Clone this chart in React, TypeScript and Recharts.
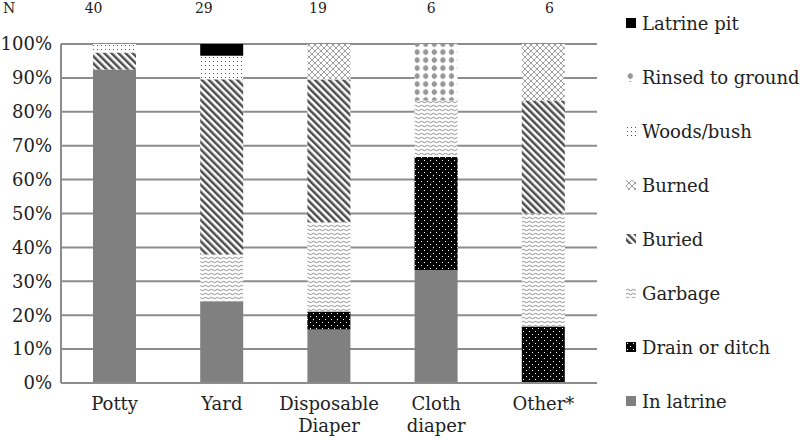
import React from 'react';
import { BarChart, Bar, XAxis, YAxis, CartesianGrid, Legend, Label } from 'recharts';

const FONT = '"DejaVu Serif", serif';
const TEXT = '#222';
const GRID = '#8c8c8c';

const CATEGORIES = ['Potty', 'Yard', 'Disposable\nDiaper', 'Cloth\ndiaper', 'Other*'];
const N_COUNTS = [40, 29, 19, 6, 6];
const Y_TICKS = [0, 10, 20, 30, 40, 50, 60, 70, 80, 90, 100];

// percent of each group, bottom of the stack first
const IN_LATRINE = [92.5, 24.1, 15.8, 33.3, 0];
const DRAIN_OR_DITCH = [0, 0, 5.3, 33.4, 16.7];
const GARBAGE = [0, 13.8, 26.3, 16.6, 33.3];
const BURIED = [5, 51.7, 42.1, 0, 33.3];
const BURNED = [0, 0, 10.5, 0, 16.7];
const WOODS_BUSH = [2.5, 6.9, 0, 0, 0];
const RINSED = [0, 0, 0, 16.7, 0];
const LATRINE_PIT = [0, 3.5, 0, 0, 0];

// the N labels sit a little left of the bars in the original
const N_LABEL_DX = [-21, -18, -11, -5, 6];

const SERIES = [
  { key: 'inLatrine', name: 'In latrine', fill: '#808080', values: IN_LATRINE },
  { key: 'drain', name: 'Drain or ditch', fill: 'url(#p-drain)', values: DRAIN_OR_DITCH },
  { key: 'garbage', name: 'Garbage', fill: 'url(#p-garbage)', values: GARBAGE },
  { key: 'buried', name: 'Buried', fill: 'url(#p-buried)', values: BURIED },
  { key: 'burned', name: 'Burned', fill: 'url(#p-burned)', values: BURNED },
  { key: 'woods', name: 'Woods/bush', fill: 'url(#p-woods)', values: WOODS_BUSH },
  { key: 'rinsed', name: 'Rinsed to ground', fill: 'url(#p-rinsed)', values: RINSED },
  { key: 'latrinePit', name: 'Latrine pit', fill: '#000', values: LATRINE_PIT },
];

const data = CATEGORIES.map((category, i) => {
  const row: Record<string, any> = { category, n: N_COUNTS[i] };
  SERIES.forEach((s) => (row[s.key] = s.values[i]));
  return row;
});

const XTick = ({ x, y, payload }: any) => {
  const lines = String(payload.value).split('\n');
  return (
    <text x={x} y={y} textAnchor="middle" fontFamily={FONT} fontSize={18} fill={TEXT}>
      {lines.map((l, i) => (
        <tspan key={i} x={x} dy={i === 0 ? 27 : 22}>
          {l}
        </tspan>
      ))}
    </text>
  );
};

const NTick = ({ x, y, index }: any) => (
  <text x={x + N_LABEL_DX[index]} y={y - 31} textAnchor="middle" fontFamily={FONT} fontSize={14} fill={TEXT}>
    {N_COUNTS[index]}
  </text>
);

const LegendList = () => (
  <div style={{ position: 'relative', width: 174, height: 440, fontFamily: FONT, fontSize: 18, color: TEXT }}>
    {[...SERIES].reverse().map((s, i) => (
      <div
        key={s.key}
        style={{
          position: 'absolute',
          left: 0,
          top: 11 + i * 54,
          height: 24,
          display: 'flex',
          alignItems: 'center',
          whiteSpace: 'nowrap',
        }}
      >
        <svg width={10} height={10} style={{ marginRight: 6, display: 'block' }}>
          <rect width={10} height={10} fill={s.fill} />
        </svg>
        <span>{s.name}</span>
      </div>
    ))}
  </div>
);

export default function App() {
  return (
    <div style={{ width: 800, height: 440 }}>
      <style>{`body{margin:0}`}</style>
      <BarChart width={800} height={440} data={data} margin={{ top: 0, right: 203, bottom: 0, left: 0 }}>
        <defs>
          <pattern id="p-buried" width="5" height="5" patternUnits="userSpaceOnUse" patternTransform="rotate(-45)">
            <rect width="5" height="5" fill="#fff" />
            <rect width="2.5" height="5" fill="#4d4d4d" />
          </pattern>
          <pattern id="p-burned" width="6" height="6" patternUnits="userSpaceOnUse">
            <rect width="6" height="6" fill="#fff" />
            <path d="M0,0 L6,6 M6,0 L0,6" stroke="#a0a0a0" strokeWidth="1" />
          </pattern>
          <pattern id="p-woods" width="4" height="4" patternUnits="userSpaceOnUse">
            <rect width="4" height="4" fill="#fff" />
            <rect x="1" y="1" width="1" height="1" fill="#555" />
          </pattern>
          <pattern id="p-rinsed" width="8.6" height="8" patternUnits="userSpaceOnUse">
            <rect width="8.6" height="8" fill="#fff" />
            <circle cx="4.3" cy="4" r="2.6" fill="#979797" />
            <polygon points="4.3,0.4 6.5,4 4.3,7.6 2.1,4" fill="#979797" />
          </pattern>
          <pattern id="p-garbage" width="6" height="4" patternUnits="userSpaceOnUse">
            <rect width="6" height="4" fill="#fff" />
            <path d="M0,2 Q1.5,0.6 3,2 T6,2" stroke="#8f8f8f" strokeWidth="1" fill="none" />
          </pattern>
          <pattern id="p-drain" width="6" height="6" patternUnits="userSpaceOnUse">
            <rect width="6" height="6" fill="#000" />
            <rect x="1" y="1" width="1" height="1" fill="#fff" />
            <rect x="4" y="4" width="1" height="1" fill="#fff" />
          </pattern>
        </defs>
        <CartesianGrid vertical={false} stroke={GRID} strokeWidth={2} />
        <XAxis
          dataKey="category"
          height={57}
          tick={<XTick />}
          tickLine={false}
          tickSize={0}
          tickMargin={0}
          axisLine={{ stroke: GRID, strokeWidth: 2 }}
          interval={0}
        />
        <XAxis
          xAxisId="top"
          orientation="top"
          dataKey="category"
          height={44}
          tick={<NTick />}
          tickLine={false}
          tickSize={0}
          tickMargin={0}
          axisLine={false}
          interval={0}
        />
        <YAxis
          width={61}
          domain={[0, 100]}
          ticks={Y_TICKS}
          interval={0}
          tickFormatter={(v) => `${v}%`}
          tick={{ fill: TEXT, fontSize: 18, fontFamily: FONT }}
          tickLine={false}
          tickSize={0}
          tickMargin={9}
          axisLine={{ stroke: GRID, strokeWidth: 2 }}
        >
          <Label
            content={({ viewBox }: any) => (
              <text x={3} y={viewBox.y - 31} fontFamily={FONT} fontSize={14} fill={TEXT}>
                N
              </text>
            )}
          />
        </YAxis>
        {SERIES.map((s) => (
          <Bar key={s.key} dataKey={s.key} name={s.name} stackId="a" fill={s.fill} barSize={43} isAnimationActive={false} />
        ))}
        <Legend
          layout="vertical"
          align="center"
          verticalAlign="middle"
          wrapperStyle={{ left: 626, top: 0, width: 174, height: 440 }}
          content={<LegendList />}
        />
      </BarChart>
    </div>
  );
}
